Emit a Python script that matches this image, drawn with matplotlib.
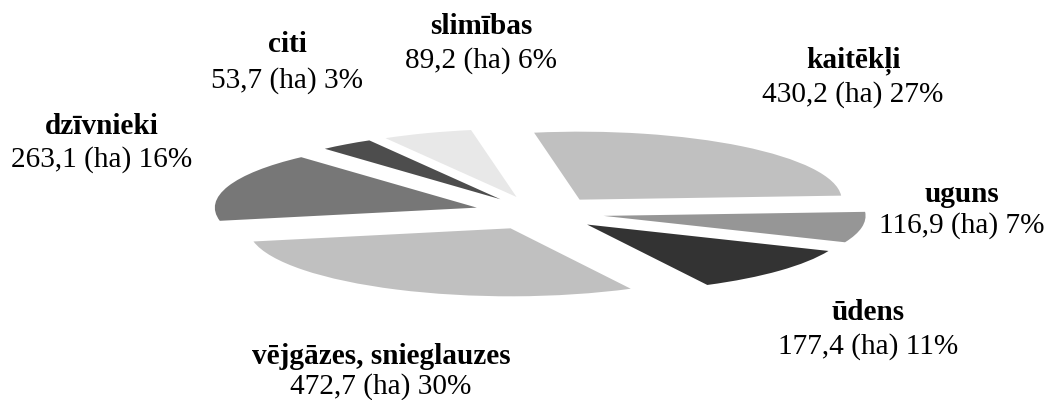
import matplotlib
matplotlib.use("Agg")
import matplotlib.pyplot as plt

plt.rcParams['font.family'] = ['Liberation Serif', 'DejaVu Serif']

categories = ["kaitēkļi", "uguns", "ūdens", "vējgāzes, snieglauzes", "dzīvnieki", "citi", "slimības"]
areas = [430.2, 116.9, 177.4, 472.7, 263.1, 53.7, 89.2]
area_labels = ["430,2 (ha) 27%", "116,9 (ha) 7%", "177,4 (ha) 11%", "472,7 (ha) 30%",
               "263,1 (ha) 16%", "53,7 (ha) 3%", "89,2 (ha) 6%"]
colors = ["#c0c0c0", "#969696", "#333333", "#c0c0c0", "#777777", "#4d4d4d", "#e8e8e8"]
explode = [0.25] * 7
# label centres in pixels of the 1048x400 picture: x, y of name, y of value
label_pos = [(853, 61, 95), (962, 194, 226), (868, 313, 347), (381, 357, 387),
             (102, 126, 160), (287, 45, 81), (481, 27, 61)]

W, H = 1048, 400
cx, cy = 539, 213   # pie centre, pixels
rx, ry = 262, 68    # squashed radius, pixels

fig = plt.figure(figsize=(W / 100, H / 100), dpi=100)
ax = fig.add_axes([0, 0, 1, 1])
ax.pie(areas, explode=explode, colors=colors, startangle=100, counterclock=False,
       radius=1, frame=True)
ax.set_aspect('auto')
ax.set_xlim(-cx / rx, (W - cx) / rx)
ax.set_ylim(-(H - cy) / ry, cy / ry)
ax.axis('off')

for name, lab, (px, py1, py2) in zip(categories, area_labels, label_pos):
    fig.text(px / W, 1 - py1 / H, name, ha='center', va='center', fontsize=21.1, fontweight='bold')
    fig.text(px / W, 1 - py2 / H, lab, ha='center', va='center', fontsize=21.1)

fig.savefig("out.png", dpi=100)
